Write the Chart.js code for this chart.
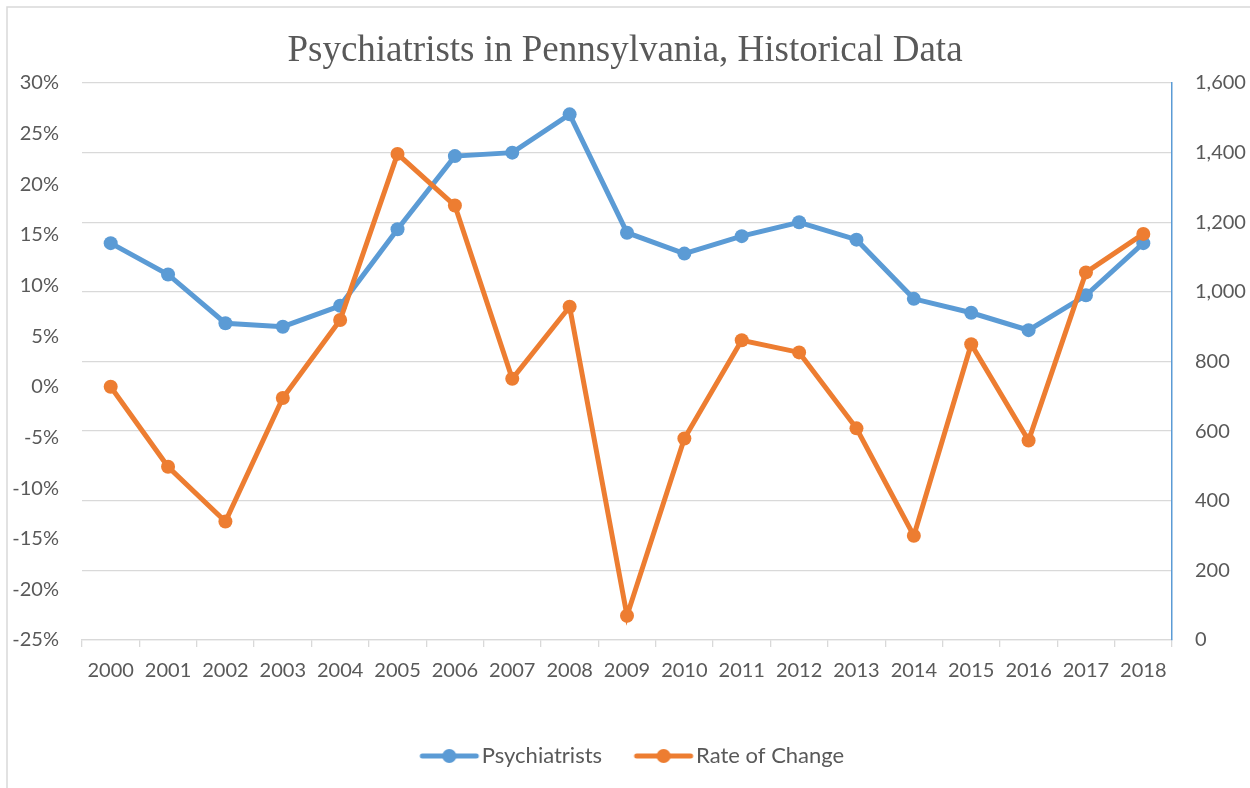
<!DOCTYPE html>
<html>
<head>
<meta charset="utf-8">
<script src="https://cdn.jsdelivr.net/npm/chart.js@4"></script>
<style>
  html, body { margin: 0; padding: 0; background: #fff; }
  #wrap { width: 1250px; height: 788px; position: relative; }
</style>
</head>
<body>
<div id="wrap"><canvas id="c" width="1250" height="788"></canvas></div>
<script>
const years = ['2000','2001','2002','2003','2004','2005','2006','2007','2008','2009','2010','2011','2012','2013','2014','2015','2016','2017','2018'];
const psychiatrists = [1140, 1050, 910, 900, 960, 1180, 1390, 1400, 1510, 1170, 1110, 1160, 1200, 1150, 980, 940, 890, 990, 1140];
const rateOfChange = [0.0, -7.9, -13.3, -1.1, 6.6, 23.0, 17.9, 0.8, 7.9, -22.6, -5.1, 4.6, 3.4, -4.1, -14.7, 4.2, -5.3, 11.3, 15.1];
const leftTicks = [-25, 30, 5];
const rightTicks = [0, 1600, 200];

const BLUE = '#5B9BD5';
const ORANGE = '#ED7D31';
const TEXT = '#595959';
const GRID = '#D9D9D9';

function legendIcon(color) {
  const cv = document.createElement('canvas');
  cv.width = 62; cv.height = 18;
  const g = cv.getContext('2d');
  g.strokeStyle = color; g.lineWidth = 5; g.lineCap = 'round';
  g.beginPath(); g.moveTo(4, 9); g.lineTo(58, 9); g.stroke();
  g.fillStyle = color;
  g.beginPath(); g.arc(31, 9, 7, 0, Math.PI * 2); g.fill();
  return cv;
}
const icons = { blue: legendIcon(BLUE), orange: legendIcon(ORANGE) };

const framePlugin = {
  id: 'frame',
  afterLayout(chart) {
    if (chart.legend) { chart.legend.left += 11; chart.legend.right += 11; }
  },
  beforeDraw(chart) {
    const ctx = chart.ctx;
    ctx.save();
    ctx.fillStyle = '#fff';
    ctx.fillRect(0, 0, chart.width, chart.height);
    ctx.strokeStyle = GRID;
    ctx.lineWidth = 1.5;
    ctx.strokeRect(7, 7, chart.width + 20, chart.height + 20);
    ctx.restore();
  }
};

new Chart(document.getElementById('c'), {
  type: 'line',
  data: {
    labels: years,
    datasets: [
      {
        label: 'Psychiatrists',
        data: psychiatrists,
        yAxisID: 'yR',
        borderColor: BLUE,
        backgroundColor: BLUE,
        borderWidth: 5,
        pointRadius: 7,
        pointHoverRadius: 7,
        pointBorderWidth: 0,
        tension: 0,
        order: 2
      },
      {
        label: 'Rate of Change',
        data: rateOfChange,
        yAxisID: 'yL',
        borderColor: ORANGE,
        backgroundColor: ORANGE,
        borderWidth: 5,
        pointRadius: 7,
        pointHoverRadius: 7,
        pointBorderWidth: 0,
        tension: 0,
        order: 1
      }
    ]
  },
  options: {
    responsive: false,
    animation: false,
    layout: { padding: { left: 0, right: 0, top: 0, bottom: 11 } },
    plugins: {
      tooltip: { enabled: false },
      title: {
        display: true,
        text: 'Psychiatrists in Pennsylvania, Historical Data',
        color: TEXT,
        font: { family: '"Liberation Serif", "Times New Roman", serif', size: 37, weight: 'normal', lineHeight: 1.2 },
        padding: { top: 29.5, bottom: 9.1 }
      },
      legend: {
        position: 'bottom',
        title: { display: true, text: '', font: { size: 1, lineHeight: 1 }, padding: { top: 9, bottom: 0 } },
        labels: {
          color: TEXT,
          font: { family: 'Lato, "Open Sans", sans-serif', size: 22 },
          usePointStyle: true,
          pointStyleWidth: 43,
          boxHeight: 18,
          padding: 40,
          generateLabels(chart) {
            return [
              { text: 'Psychiatrists', pointStyle: icons.blue, fillStyle: BLUE, strokeStyle: BLUE, lineWidth: 0, fontColor: TEXT, datasetIndex: 0, hidden: false },
              { text: 'Rate of Change', pointStyle: icons.orange, fillStyle: ORANGE, strokeStyle: ORANGE, lineWidth: 0, fontColor: TEXT, datasetIndex: 1, hidden: false }
            ];
          }
        }
      }
    },
    scales: {
      x: {
        type: 'category',
        offset: true,
        grid: {
          display: true,
          offset: true,
          drawOnChartArea: false,
          drawTicks: true,
          tickLength: 7,
          color: GRID,
          lineWidth: 1.3
        },
        border: { display: true, color: GRID, width: 1.3 },
        ticks: {
          color: TEXT,
          font: { family: 'Lato, "Open Sans", sans-serif', size: 20 },
          padding: 12,
          maxRotation: 0,
          autoSkip: false
        }
      },
      yL: {
        type: 'linear',
        position: 'left',
        min: leftTicks[0],
        max: leftTicks[1],
        grid: { display: false, drawTicks: false },
        border: { display: false },
        ticks: {
          stepSize: leftTicks[2],
          color: TEXT,
          font: { family: 'Lato, "Open Sans", sans-serif', size: 20 },
          padding: 23,
          callback: v => v + '%'
        },
        afterFit(scale) { scale.width = 82; }
      },
      yR: {
        type: 'linear',
        position: 'right',
        min: rightTicks[0],
        max: rightTicks[1],
        grid: { display: true, drawOnChartArea: true, drawTicks: false, color: GRID, lineWidth: 1.3 },
        border: { display: true, color: BLUE, width: 1.5 },
        ticks: {
          stepSize: rightTicks[2],
          color: TEXT,
          font: { family: 'Lato, "Open Sans", sans-serif', size: 20 },
          padding: 23,
          callback: v => v.toLocaleString('en-US')
        },
        afterFit(scale) { scale.width = 78; }
      }
    }
  },
  plugins: [framePlugin]
});
</script>
</body>
</html>
